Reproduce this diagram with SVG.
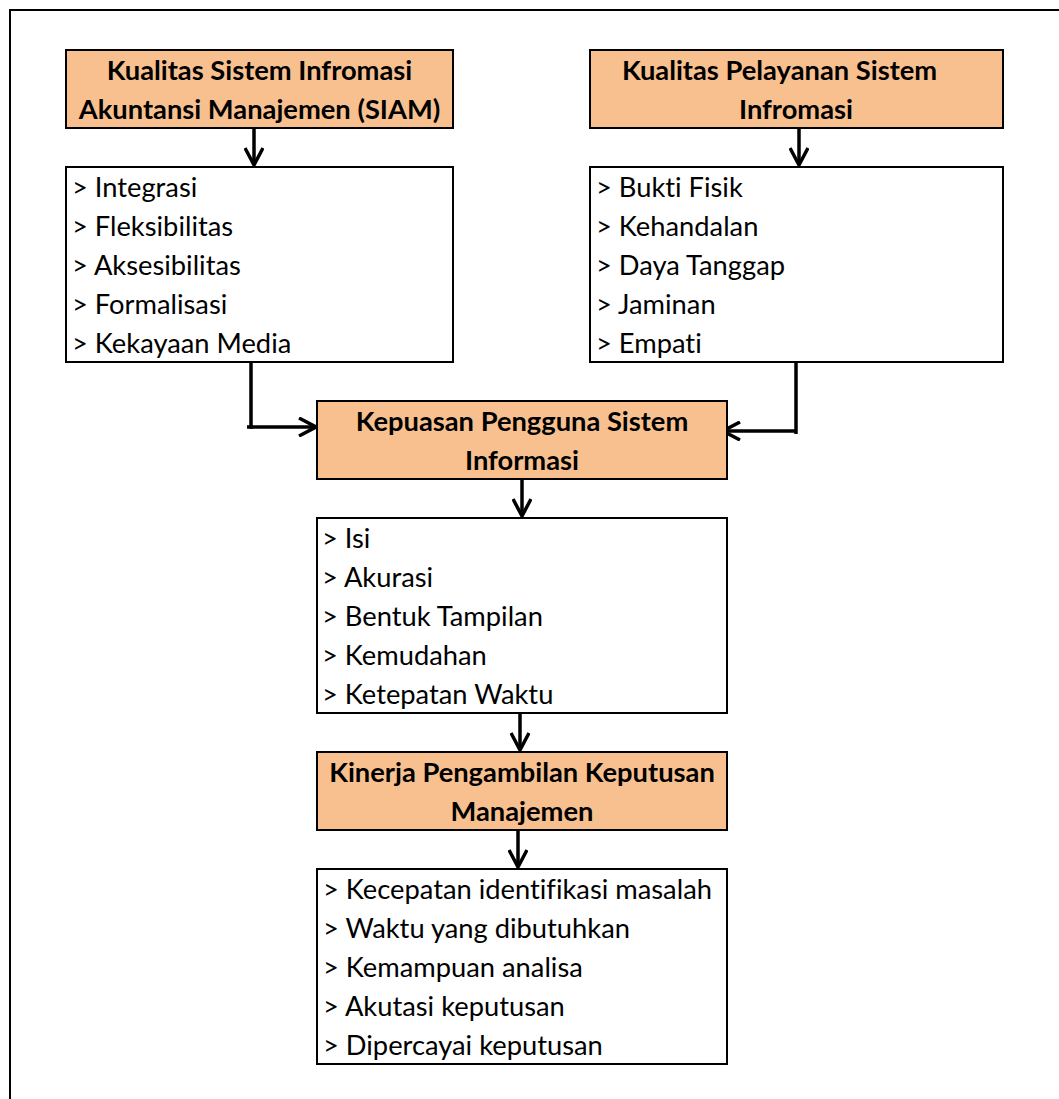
<svg xmlns="http://www.w3.org/2000/svg" width="1059" height="1099" viewBox="0 0 1059 1099">
<style>
.frame{fill:none;stroke:#000;stroke-width:2}
.hdr{fill:#F9C08F;stroke:#000;stroke-width:2}
.lst{fill:#fff;stroke:#000;stroke-width:2}
.t{font-family:Lato,"Liberation Sans",sans-serif;font-size:27.3px;fill:#000;font-variant-ligatures:none;font-feature-settings:"liga" 0}
.b{font-weight:bold;text-anchor:middle}
.c{fill:none;stroke:#000;stroke-width:3.5}
</style>
<defs>
<marker id="arr" viewBox="0 0 20 20" refX="18" refY="10" markerWidth="20" markerHeight="20" markerUnits="userSpaceOnUse" orient="auto">
<path d="M1,1 L18,10 L1,19" fill="none" stroke="#000" stroke-width="3.5"/>
</marker>
</defs>
<rect width="1059" height="1099" fill="#fff"/>
<rect class="frame" x="10" y="10" width="1100" height="1100"/>

<g id="connectors">
<line class="c" x1="254" y1="128" x2="254" y2="165" marker-end="url(#arr)"/>
<line class="c" x1="799" y1="128" x2="799" y2="165" marker-end="url(#arr)"/>
<polyline class="c" points="251,362 251,427 316,427" marker-end="url(#arr)"/>
<line class="c" x1="247" y1="427" x2="253" y2="427"/>
<polyline class="c" points="796,361 796,434"/>
<polyline class="c" points="796,431 723,431" marker-end="url(#arr)"/>
<line class="c" x1="522" y1="479" x2="522" y2="516" marker-end="url(#arr)"/>
<line class="c" x1="520" y1="712" x2="520" y2="750" marker-end="url(#arr)"/>
<line class="c" x1="518" y1="830" x2="518" y2="867" marker-end="url(#arr)"/>
</g>

<g id="node-siam">
<rect class="hdr" x="66" y="50" width="387" height="78"/>
<text class="t b" x="259.5" y="80">Kualitas Sistem Infromasi</text>
<text class="t b" x="259.5" y="119">Akuntansi Manajemen (SIAM)</text>
</g>
<g id="node-siam-list">
<rect class="lst" x="66" y="167" width="387" height="195"/>
<text class="t" x="72" y="197">&gt; Integrasi</text>
<text class="t" x="72" y="236">&gt; Fleksibilitas</text>
<text class="t" x="72" y="275">&gt; Aksesibilitas</text>
<text class="t" x="72" y="314">&gt; Formalisasi</text>
<text class="t" x="72" y="353">&gt; Kekayaan Media</text>
</g>

<g id="node-pelayanan">
<rect class="hdr" x="590" y="50" width="413" height="78"/>
<text class="t b" x="779.5" y="80">Kualitas Pelayanan Sistem</text>
<text class="t b" x="796" y="119">Infromasi</text>
</g>
<g id="node-pelayanan-list">
<rect class="lst" x="590" y="167" width="413" height="195"/>
<text class="t" x="596" y="197">&gt; Bukti Fisik</text>
<text class="t" x="596" y="236">&gt; Kehandalan</text>
<text class="t" x="596" y="275">&gt; Daya Tanggap</text>
<text class="t" x="596" y="314">&gt; Jaminan</text>
<text class="t" x="596" y="353">&gt; Empati</text>
</g>

<g id="node-kepuasan">
<rect class="hdr" x="317" y="401" width="410" height="78"/>
<text class="t b" x="522" y="431">Kepuasan Pengguna Sistem</text>
<text class="t b" x="522" y="470">Informasi</text>
</g>
<g id="node-kepuasan-list">
<rect class="lst" x="317" y="518" width="410" height="195"/>
<text class="t" x="322" y="548">&gt; Isi</text>
<text class="t" x="322" y="587">&gt; Akurasi</text>
<text class="t" x="322" y="626">&gt; Bentuk Tampilan</text>
<text class="t" x="322" y="665">&gt; Kemudahan</text>
<text class="t" x="322" y="704">&gt; Ketepatan Waktu</text>
</g>

<g id="node-kinerja">
<rect class="hdr" x="317" y="752" width="410" height="78"/>
<text class="t b" x="522" y="782">Kinerja Pengambilan Keputusan</text>
<text class="t b" x="522" y="821">Manajemen</text>
</g>
<g id="node-kinerja-list">
<rect class="lst" x="317" y="869" width="410" height="195"/>
<text class="t" x="323" y="899">&gt; Kecepatan identifikasi masalah</text>
<text class="t" x="323" y="938">&gt; Waktu yang dibutuhkan</text>
<text class="t" x="323" y="977">&gt; Kemampuan analisa</text>
<text class="t" x="323" y="1016">&gt; Akutasi keputusan</text>
<text class="t" x="323" y="1055">&gt; Dipercayai keputusan</text>
</g>
</svg>
